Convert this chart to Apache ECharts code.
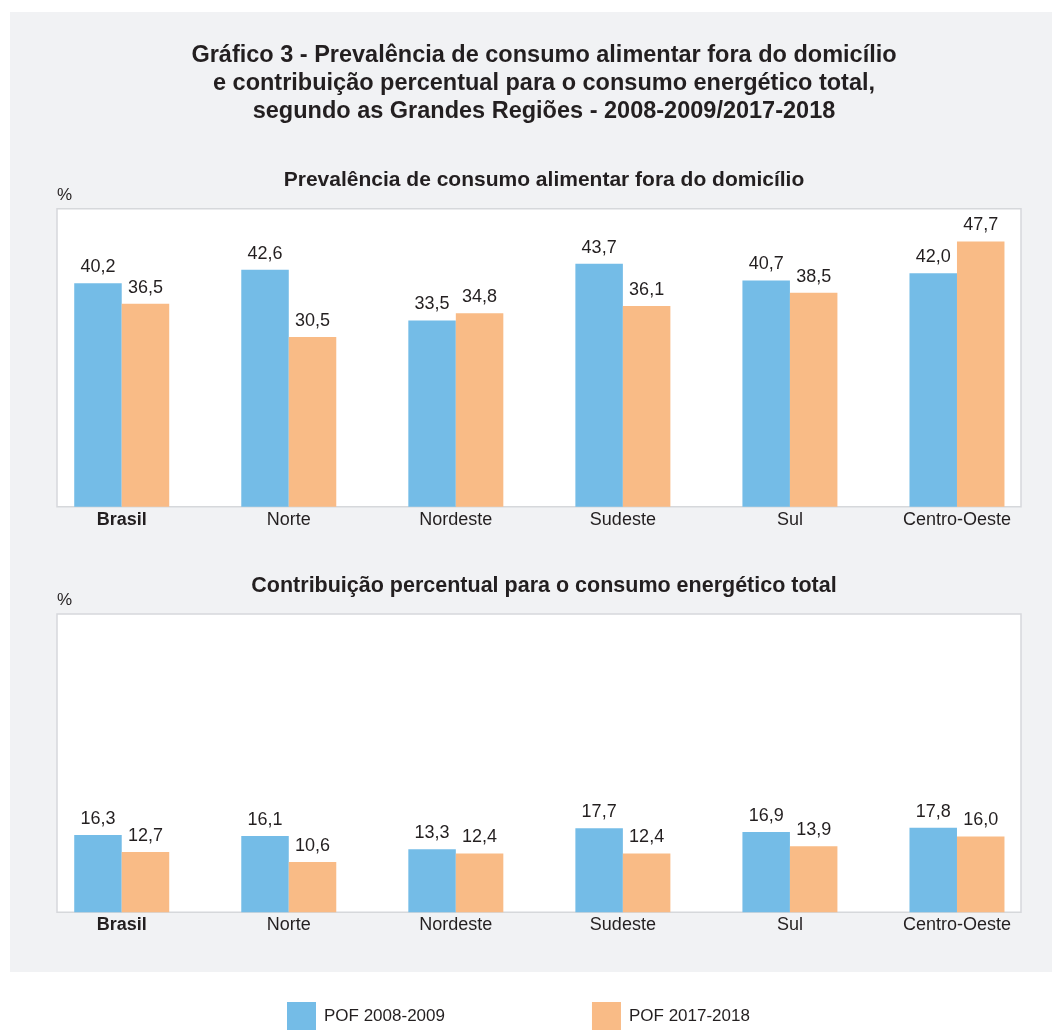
<!DOCTYPE html>
<html>
<head>
<meta charset="utf-8">
<script src="https://cdn.jsdelivr.net/npm/echarts@6/dist/echarts.min.js"></script>
<style>
  html, body { margin: 0; padding: 0; background: #ffffff; }
  #chart { width: 1052px; height: 1030px; }
</style>
</head>
<body>
<div id="chart"></div>
<script>
const categories = ['Brasil', 'Norte', 'Nordeste', 'Sudeste', 'Sul', 'Centro-Oeste'];
const seriesNames = ['POF 2008-2009', 'POF 2017-2018'];
const prevalencia2008 = [40.2, 42.6, 33.5, 43.7, 40.7, 42.0];
const prevalencia2017 = [36.5, 30.5, 34.8, 36.1, 38.5, 47.7];
const contribuicao2008 = [16.3, 16.1, 13.3, 17.7, 16.9, 17.8];
const contribuicao2017 = [12.7, 10.6, 12.4, 12.4, 13.9, 16.0];

const FONT = '"Liberation Sans", Arial, Helvetica, sans-serif';
const BLUE = '#74bce7';
const ORANGE = '#f9bb86';
const TXT = '#231f20';

const chart = echarts.init(document.getElementById('chart'), null, { renderer: 'canvas' });

const fmt = p => p.value.toFixed(1).replace('.', ',');

function barSeries(name, data, idx, color) {
  return {
    type: 'bar',
    name: name,
    data: data,
    xAxisIndex: idx,
    yAxisIndex: idx,
    barWidth: 47.5,
    barGap: '0%',
    itemStyle: { color: color },
    label: {
      show: true,
      position: 'top',
      distance: 7,
      formatter: fmt,
      fontFamily: FONT,
      fontSize: 18,
      color: TXT
    },
    z: 3
  };
}

function xAxisFor(gridIndex) {
  return {
    type: 'category',
    gridIndex: gridIndex,
    data: categories,
    axisLine: { show: false },
    axisTick: { show: false },
    axisLabel: {
      margin: 4,
      fontFamily: FONT,
      fontSize: 18,
      color: TXT,
      formatter: v => v === 'Brasil' ? '{b|' + v + '}' : v,
      rich: { b: { fontFamily: FONT, fontSize: 18, fontWeight: 'bold', color: TXT } }
    }
  };
}

function yAxisFor(gridIndex, max) {
  return {
    type: 'value',
    gridIndex: gridIndex,
    min: 0,
    max: max,
    show: false,
    splitLine: { show: false }
  };
}

const option = {
  backgroundColor: '#ffffff',
  animation: false,
  title: [
    {
      text: 'Gráfico 3 - Prevalência de consumo alimentar fora do domicílio\ne contribuição percentual para o consumo energético total,\nsegundo as Grandes Regiões - 2008-2009/2017-2018',
      left: 539, top: 37, textAlign: 'center',
      textStyle: { fontFamily: FONT, fontSize: 23.5, fontWeight: 'bold', color: TXT, lineHeight: 28 }
    },
    {
      text: 'Prevalência de consumo alimentar fora do domicílio',
      left: 539, top: 164, textAlign: 'center',
      textStyle: { fontFamily: FONT, fontSize: 21, fontWeight: 'bold', color: TXT, lineHeight: 22 }
    },
    {
      text: 'Contribuição percentual para o consumo energético total',
      left: 539, top: 570, textAlign: 'center',
      textStyle: { fontFamily: FONT, fontSize: 21.5, fontWeight: 'bold', color: TXT, lineHeight: 22 }
    }
  ],
  legend: {
    data: seriesNames,
    left: 282, top: 997,
    itemWidth: 29, itemHeight: 28,
    itemGap: 147,
    icon: 'rect',
    textStyle: { fontFamily: FONT, fontSize: 17, color: TXT, padding: [0, 0, 0, 3] }
  },
  graphic: [
    { type: 'rect', shape: { x: 10, y: 12, width: 1042, height: 960 }, style: { fill: '#f1f2f4' }, z: -10 },
    { type: 'rect', shape: { x: 57, y: 208.7, width: 964, height: 298 }, style: { fill: '#ffffff', stroke: '#d6d8db', lineWidth: 1.5 }, z: -5 },
    { type: 'rect', shape: { x: 57, y: 614, width: 964, height: 298.3 }, style: { fill: '#ffffff', stroke: '#d6d8db', lineWidth: 1.5 }, z: -5 },
    { type: 'text', x: 57, y: 195, style: { text: '%', font: '17px ' + FONT, fill: TXT, verticalAlign: 'middle' }, z: 5 },
    { type: 'text', x: 57, y: 600, style: { text: '%', font: '17px ' + FONT, fill: TXT, verticalAlign: 'middle' }, z: 5 }
  ],
  grid: [
    { left: 38.2, right: 11.5, top: 200.9, height: 305.8 },
    { left: 38.2, right: 11.5, top: 627.6, height: 284.7 }
  ],
  xAxis: [xAxisFor(0), xAxisFor(1)],
  yAxis: [yAxisFor(0, 55), yAxisFor(1, 60)],
  series: [
    barSeries(seriesNames[0], prevalencia2008, 0, BLUE),
    barSeries(seriesNames[1], prevalencia2017, 0, ORANGE),
    barSeries(seriesNames[0], contribuicao2008, 1, BLUE),
    barSeries(seriesNames[1], contribuicao2017, 1, ORANGE)
  ]
};

chart.setOption(option);
</script>
</body>
</html>
